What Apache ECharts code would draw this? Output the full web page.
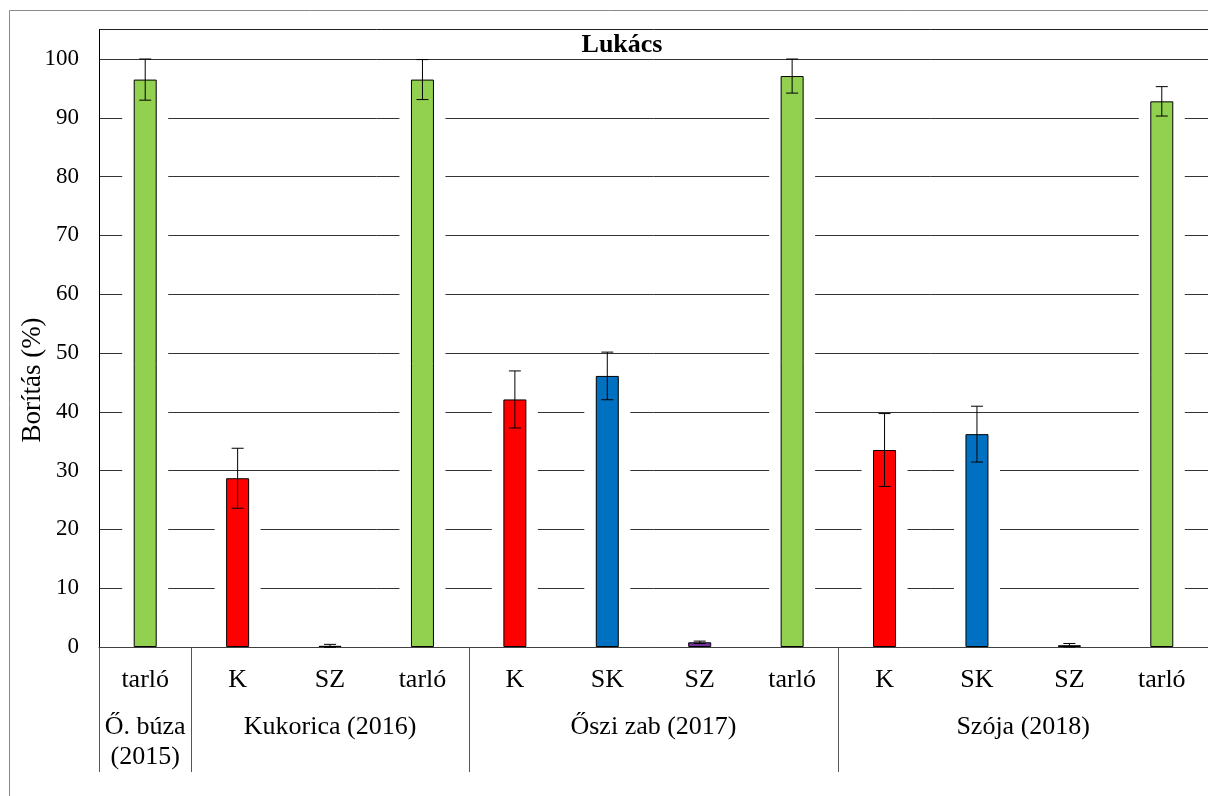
<!DOCTYPE html>
<html>
<head>
<meta charset="utf-8">
<title>Lukács</title>
<script src="https://cdn.jsdelivr.net/npm/echarts@6/dist/echarts.min.js"></script>
<style>
  html, body { margin: 0; padding: 0; background: #fff; }
  #chart { width: 1208px; height: 796px; }
</style>
</head>
<body>
<div id="chart"></div>
<script>
// kategóriák (kezelések) és a csoportok (vetemény + év)
const categories = ['tarló', 'K', 'SZ', 'tarló', 'K', 'SK', 'SZ', 'tarló', 'K', 'SK', 'SZ', 'tarló'];
const coverValues = [96.5, 28.7, 0.2, 96.5, 42.1, 46.1, 0.8, 97.1, 33.5, 36.2, 0.3, 92.8];
const coverErrors = [3.5, 5.1, 0.25, 3.4, 4.85, 4.05, 0.2, 2.9, 6.2, 4.75, 0.3, 2.5];
const groupNames = ['Ő. búza\n(2015)', 'Kukorica (2016)', 'Őszi zab (2017)', 'Szója (2018)'];
const groupSizes = [1, 3, 4, 4];

const FONT = '"Liberation Serif", "Times New Roman", serif';

function getBarColor(name) {
  const colorMap = {
    'tarló': '#92D050', // zöld
    'K': '#FF0000',     // piros
    'SK': '#0070C0',    // kék
    'SZ': '#7030A0'     // lila
  };
  return colorMap[name] || '#999';
}

const chart = echarts.init(document.getElementById('chart'));

const option = {
  backgroundColor: '#fff',
  animation: false,
  grid: { left: 99, right: 0, top: 59, bottom: 149 },
  xAxis: [
    {
      type: 'category',
      data: categories,
      axisLine: { lineStyle: { color: '#404040', width: 1 } },
      axisTick: { show: false },
      axisLabel: { color: '#000', fontFamily: FONT, fontSize: 26, margin: 20, interval: 0 },
      splitLine: { show: false }
    },
    {
      // láthatatlan tengely a fehér "árnyék" oszlopokhoz
      type: 'category',
      data: categories,
      show: false
    }
  ],
  yAxis: {
    type: 'value',
    min: 0,
    max: 100,
    interval: 10,
    axisLine: { show: true, lineStyle: { color: '#000' } },
    axisTick: { show: false },
    axisLabel: { color: '#000', fontFamily: FONT, fontSize: 23, margin: 20 },
    splitLine: { lineStyle: { color: '#333', width: 1 } }
  },
  series: [
    {
      // fehér sáv az oszlopok körül (megszakítja a rácsvonalakat)
      type: 'bar',
      xAxisIndex: 1,
      barWidth: 46,
      silent: true,
      itemStyle: { color: '#fff' },
      data: coverValues,
      z: 1
    },
    {
      type: 'bar',
      xAxisIndex: 0,
      barWidth: 23,
      data: coverValues.map((v, i) => ({
        value: v,
        itemStyle: { color: getBarColor(categories[i]) }
      })),
      itemStyle: { borderColor: '#000', borderWidth: 1 },
      z: 3
    },
    {
      // hibasávok
      type: 'custom',
      xAxisIndex: 0,
      z: 4,
      data: coverValues.map((v, i) => [i, v, coverErrors[i]]),
      renderItem: function (params, api) {
        const x = api.value(0);
        const v = api.value(1);
        const e = api.value(2);
        const hi = api.coord([x, v + e]);
        const lo = api.coord([x, v - e]);
        const cap = 6;
        const st = { stroke: '#000', lineWidth: 1 };
        return {
          type: 'group',
          children: [
            { type: 'line', shape: { x1: hi[0], y1: hi[1], x2: lo[0], y2: lo[1] }, style: st },
            { type: 'line', shape: { x1: hi[0] - cap, y1: hi[1], x2: hi[0] + cap, y2: hi[1] }, style: st },
            { type: 'line', shape: { x1: lo[0] - cap, y1: lo[1], x2: lo[0] + cap, y2: lo[1] }, style: st }
          ]
        };
      }
    }
  ]
};

chart.setOption(option);

// csoportfeliratok, elválasztó vonalak, keret és cím a tengely koordinátáiból
const x0 = chart.convertToPixel({ xAxisIndex: 0 }, 0);
const band = chart.convertToPixel({ xAxisIndex: 0 }, 1) - x0;
const yZero = chart.convertToPixel({ yAxisIndex: 0 }, 0);
const yTop = chart.convertToPixel({ yAxisIndex: 0 }, 100);
const sepBottom = 772;

const graphics = [
  // külső keret
  { type: 'rect', shape: { x: 9.5, y: 10.5, width: 1400, height: 1000 },
    style: { fill: null, stroke: '#8a8a8a', lineWidth: 1 }, silent: true },
  // címsáv
  { type: 'line', shape: { x1: x0 - band / 2, y1: 29.5, x2: 1208, y2: 29.5 },
    style: { stroke: '#222', lineWidth: 1 } },
  { type: 'line', shape: { x1: 99.5, y1: 29.5, x2: 99.5, y2: yTop },
    style: { stroke: '#000', lineWidth: 1 } },
  { type: 'text', x: 622, y: 45,
    style: { text: 'Lukács', font: 'bold 26px ' + FONT, fill: '#000', align: 'center', verticalAlign: 'middle' } },
  // y tengely címe
  { type: 'text', x: 33, y: 380, rotation: Math.PI / 2,
    style: { text: 'Borítás (%)', font: '27px ' + FONT, fill: '#000', align: 'center', verticalAlign: 'middle' } }
];

let start = 0;
groupNames.forEach((name, g) => {
  const n = groupSizes[g];
  const left = Math.round(x0 + band * (start - 0.5)) + 0.5;
  graphics.push({ type: 'line', shape: { x1: left, y1: yZero, x2: left, y2: sepBottom },
    style: { stroke: '#555', lineWidth: 1 } });
  const cx = x0 + band * (start + (n - 1) / 2);
  graphics.push({ type: 'text', x: cx, y: 712,
    style: { text: name, font: '26px ' + FONT, fill: '#000', align: 'center', verticalAlign: 'top', lineHeight: 30 } });
  start += n;
});

chart.setOption({ graphic: graphics });
</script>
</body>
</html>
